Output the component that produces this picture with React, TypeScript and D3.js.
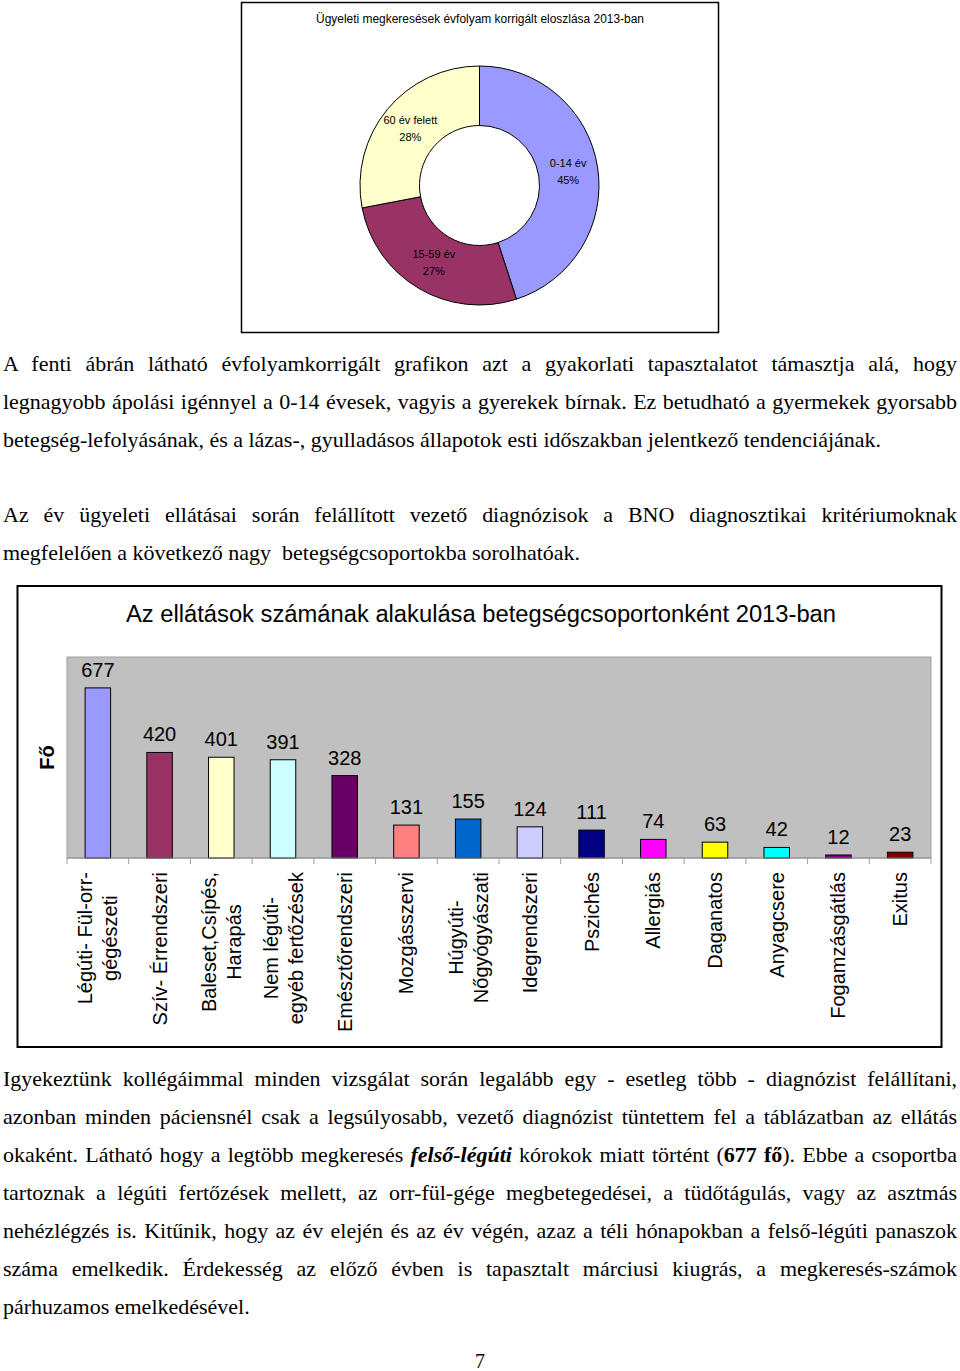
import React, { useRef, useEffect } from 'react';
import * as d3 from 'd3';

// donut chart data
const ageGroups = ['0-14 év', '15-59 év', '60 év felett'];
const agePercents = [45, 27, 28];
const ageColors = ['#9999FF', '#993366', '#FFFFCC'];

// bar chart data
const categories = [
  ['Légúti- Fül-orr-', 'gégészeti'],
  ['Szív- Érrendszeri'],
  ['Baleset,Csípés,', 'Harapás'],
  ['Nem légúti-', 'egyéb fertőzések'],
  ['Emésztőrendszeri'],
  ['Mozgásszervi'],
  ['Húgyúti-', 'Nőgyógyászati'],
  ['Idegrendszeri'],
  ['Pszichés'],
  ['Allergiás'],
  ['Daganatos'],
  ['Anyagcsere'],
  ['Fogamzásgátlás'],
  ['Exitus'],
];
const counts = [677, 420, 401, 391, 328, 131, 155, 124, 111, 74, 63, 42, 12, 23];
const barColors = [
  '#9999FF', '#993366', '#FFFFCC', '#CCFFFF', '#660066', '#FF8080', '#0066CC',
  '#CCCCFF', '#000080', '#FF00FF', '#FFFF00', '#00FFFF', '#800080', '#800000',
];

// body text, [text, justified]
const para1: [string, boolean][] = [
  ['A fenti ábrán látható évfolyamkorrigált grafikon azt a gyakorlati tapasztalatot támasztja alá, hogy', true],
  ['legnagyobb ápolási igénnyel a 0-14 évesek, vagyis a gyerekek bírnak. Ez betudható a gyermekek gyorsabb', true],
  ['betegség-lefolyásának, és a lázas-, gyulladásos állapotok esti időszakban jelentkező tendenciájának.', false],
];
const para2: [string, boolean][] = [
  ['Az év ügyeleti ellátásai során felállított vezető diagnózisok a BNO diagnosztikai kritériumoknak', true],
  ['megfelelően a következő nagy  betegségcsoportokba sorolhatóak.', false],
];
const para3: [string, boolean][] = [
  ['Igyekeztünk kollégáimmal minden vizsgálat során legalább egy - esetleg több - diagnózist felállítani,', true],
  ['azonban minden páciensnél csak a legsúlyosabb, vezető diagnózist tüntettem fel a táblázatban az ellátás', true],
  ['okaként. Látható hogy a legtöbb megkeresés ***felső-légúti*** kórokok miatt történt (**677 fő**). Ebbe a csoportba', true],
  ['tartoznak a légúti fertőzések mellett, az orr-fül-gége megbetegedései, a tüdőtágulás, vagy az asztmás', true],
  ['nehézlégzés is. Kitűnik, hogy az év elején és az év végén, azaz a téli hónapokban a felső-légúti panaszok', true],
  ['száma emelkedik. Érdekesség az előző évben is tapasztalt márciusi kiugrás, a megkeresés-számok', true],
  ['párhuzamos emelkedésével.', false],
];

const SANS = 'Liberation Sans, Arial, sans-serif';
const SERIF = 'Liberation Serif, Times New Roman, serif';
const BODY_SX = 1.1; // the scanned page text is a bit wider than the font

const drawLine = (g, line, x, y, width, justify) => {
  const t = g.append('text')
    .attr('transform', `translate(${x},${y}) scale(${BODY_SX},1)`)
    .attr('font-family', SERIF)
    .attr('font-size', 20)
    .style('white-space', 'pre')
    .attr('fill', '#000');
  const parts = line.split(/(\*\*\*[^*]+\*\*\*|\*\*[^*]+\*\*)/).filter(p => p.length);
  let plain = '';
  parts.forEach(p => {
    const sp = t.append('tspan');
    if (p.startsWith('***')) {
      const s = p.slice(3, -3);
      sp.text(s).attr('font-weight', 'bold').attr('font-style', 'italic');
      plain += s;
    } else if (p.startsWith('**')) {
      const s = p.slice(2, -2);
      sp.text(s).attr('font-weight', 'bold');
      plain += s;
    } else {
      sp.text(p);
      plain += p;
    }
  });
  if (justify) {
    const len = t.node().getComputedTextLength();
    const spaces = (plain.match(/ /g) || []).length;
    if (spaces > 0) t.style('word-spacing', `${(width / BODY_SX - len) / spaces}px`);
  }
};

const App = () => {
  const svgRef = useRef(null);

  useEffect(() => {
    const svg = d3.select(svgRef.current);
    svg.selectAll('*').remove();

    // ---- donut chart ----
    svg.append('rect')
      .attr('x', 241.5).attr('y', 2.5).attr('width', 477).attr('height', 330)
      .attr('fill', '#fff').attr('stroke', '#000').attr('stroke-width', 1.5);

    svg.append('text')
      .attr('x', 480).attr('y', 23)
      .attr('text-anchor', 'middle')
      .attr('font-family', SANS).attr('font-size', 12)
      .attr('textLength', 328).attr('lengthAdjust', 'spacingAndGlyphs')
      .text('Ügyeleti megkeresések évfolyam korrigált eloszlása 2013-ban');

    const pie = d3.pie().sort(null).value(d => d);
    const arc = d3.arc().innerRadius(60).outerRadius(119.5);
    const donut = svg.append('g').attr('transform', 'translate(479.5,185.5)');
    const arcs = pie(agePercents);
    donut.selectAll('path')
      .data(arcs)
      .enter().append('path')
      .attr('d', arc)
      .attr('fill', (d, i) => ageColors[i])
      .attr('stroke', '#000')
      .attr('stroke-width', 1);

    arcs.forEach((d, i) => {
      const [cx, cy] = arc.centroid(d);
      const lbl = donut.append('text')
        .attr('text-anchor', 'middle')
        .attr('font-family', SANS).attr('font-size', 11);
      lbl.append('tspan').attr('x', cx).attr('y', cy - 8.5).attr('dy', '0.35em').text(ageGroups[i]);
      lbl.append('tspan').attr('x', cx).attr('y', cy + 8.5).attr('dy', '0.35em').text(`${agePercents[i]}%`);
    });

    // ---- paragraphs ----
    const body = svg.append('g');
    const left = 3;
    const right = 957;
    para1.forEach(([l, j], i) => drawLine(body, l, left, 371 + i * 38, right - left, j));
    para2.forEach(([l, j], i) => drawLine(body, l, left, 522 + i * 38, right - left, j));
    para3.forEach(([l, j], i) => drawLine(body, l, left, 1086 + i * 38, right - left, j));

    svg.append('text')
      .attr('x', 480).attr('y', 1368)
      .attr('text-anchor', 'middle')
      .attr('font-family', SERIF).attr('font-size', 20)
      .text('7');

    // ---- bar chart ----
    svg.append('rect')
      .attr('x', 17.5).attr('y', 586).attr('width', 924).attr('height', 461)
      .attr('fill', '#fff').attr('stroke', '#000').attr('stroke-width', 2);

    svg.append('text')
      .attr('x', 481).attr('y', 614).attr('dy', '0.35em')
      .attr('text-anchor', 'middle')
      .attr('font-family', SANS).attr('font-size', 23)
      .attr('textLength', 710).attr('lengthAdjust', 'spacingAndGlyphs')
      .text('Az ellátások számának alakulása betegségcsoportonként 2013-ban');

    const plot = { left: 67, right: 931, top: 657, bottom: 858 };

    const x = d3.scaleBand()
      .domain(d3.range(counts.length))
      .range([plot.left, plot.right])
      .paddingInner(0.587)
      .paddingOuter(0.2935);

    const y = d3.scaleLinear()
      .domain([0, 800])
      .range([plot.bottom, plot.top]);

    svg.append('rect')
      .attr('x', plot.left).attr('y', plot.top)
      .attr('width', plot.right - plot.left).attr('height', plot.bottom - plot.top)
      .attr('fill', '#C0C0C0').attr('stroke', '#A0A0A0').attr('stroke-width', 1);

    svg.selectAll('.bar')
      .data(counts)
      .enter().append('rect')
      .attr('class', 'bar')
      .attr('x', (d, i) => x(i))
      .attr('y', d => y(d))
      .attr('width', x.bandwidth())
      .attr('height', d => plot.bottom - y(d))
      .attr('fill', (d, i) => barColors[i])
      .attr('stroke', '#000')
      .attr('stroke-width', 1);

    svg.selectAll('.val')
      .data(counts)
      .enter().append('text')
      .attr('class', 'val')
      .attr('x', (d, i) => x(i) + x.bandwidth() / 2)
      .attr('y', d => y(d) - 11)
      .attr('text-anchor', 'middle')
      .attr('font-family', SANS).attr('font-size', 20)
      .text(d => d);

    // x axis line and ticks between categories
    const step = x.step();
    svg.append('line')
      .attr('x1', plot.left).attr('x2', plot.right)
      .attr('y1', plot.bottom).attr('y2', plot.bottom)
      .attr('stroke', '#8C8C8C').attr('stroke-width', 1);
    d3.range(counts.length + 1).forEach(i => {
      const tx = plot.left + i * step;
      svg.append('line')
        .attr('x1', tx).attr('x2', tx)
        .attr('y1', plot.bottom).attr('y2', plot.bottom + 6)
        .attr('stroke', '#A0A0A0').attr('stroke-width', 1);
    });

    // category labels, rotated
    categories.forEach((lines, i) => {
      const cx = x(i) + x.bandwidth() / 2;
      const g = svg.append('g').attr('transform', `translate(${cx},872) rotate(-90)`);
      if (lines.length === 1) {
        g.append('text')
          .attr('x', 0).attr('y', 7)
          .attr('text-anchor', 'end')
          .attr('font-family', SANS).attr('font-size', 20)
          .text(lines[0]);
      } else {
        const texts = lines.map((l, k) => g.append('text')
          .attr('y', (k - (lines.length - 1) / 2) * 25 + 7)
          .attr('text-anchor', 'middle')
          .attr('font-family', SANS).attr('font-size', 20)
          .text(l));
        const maxLen = d3.max(texts, t => t.node().getComputedTextLength());
        texts.forEach(t => t.attr('x', -maxLen / 2));
      }
    });

    svg.append('text')
      .attr('transform', 'translate(47,757.5) rotate(-90)')
      .attr('dy', '0.35em')
      .attr('text-anchor', 'middle')
      .attr('font-family', SANS).attr('font-size', 20).attr('font-weight', 'bold')
      .text('Fő');
  }, []);

  return (
    <svg
      ref={svgRef}
      width={960}
      height={1371}
      style={{ position: 'absolute', left: 0, top: 0, background: '#fff' }}
    />
  );
};

export default App;
